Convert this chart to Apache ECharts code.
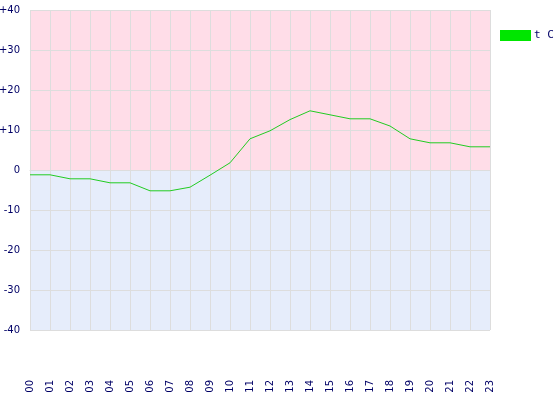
<!DOCTYPE html>
<html><head><meta charset="utf-8">
<script src="https://cdn.jsdelivr.net/npm/echarts@6/dist/echarts.min.js"></script>
<style>html,body{margin:0;padding:0;background:#fff}#c{width:560px;height:400px}</style>
</head><body><div id="c"></div>
<script>
var hours = ['00','01','02','03','04','05','06','07','08','09','10','11','12','13','14','15','16','17','18','19','20','21','22','23'];
var temps = [-1.2,-1.2,-2.2,-2.2,-3.2,-3.2,-5.2,-5.2,-4.3,-1.3,1.8,7.8,9.8,12.6,14.8,13.8,12.8,12.8,11,7.8,6.8,6.8,5.8,5.8];
var seriesName = 't C';
var chart = echarts.init(document.getElementById('c'));
var txt = {color:'#000066', fontFamily:'DejaVu Sans', fontSize:10};
chart.setOption({
  animation:false,
  grid:{left:30, top:10, width:460, height:320, containLabel:false, outerBoundsMode:'none'},
  legend:{left:500, top:30, padding:0, itemWidth:31, itemHeight:11, itemGap:4, icon:'rect',
    textStyle:{color:'#000066', fontFamily:'DejaVu Sans Mono', fontSize:11, padding:[0,0,0,-2]},
    data:[{name:seriesName, itemStyle:{color:'#00e600'}}]},
  xAxis:{type:'category', data:hours, boundaryGap:false,
    axisLine:{show:true, lineStyle:{color:'#dddddd'}}, axisTick:{show:false},
    axisLabel:Object.assign({rotate:90, margin:50, interval:0}, txt),
    splitLine:{show:true, lineStyle:{color:'#dddddd'}}},
  yAxis:{type:'value', min:-40, max:40, interval:10,
    axisLine:{show:false}, axisTick:{show:false},
    axisLabel:Object.assign({margin:10, formatter:function(v){return v>0?'+'+v:String(v);}}, txt),
    splitLine:{show:true, lineStyle:{color:'#dddddd'}}},
  series:[{name:seriesName, type:'line', data:temps, symbol:'none',
    lineStyle:{color:'#22cc22', width:1}, itemStyle:{color:'#00e600'},
    markArea:{silent:true, z:-1, data:[
      [{yAxis:0, itemStyle:{color:'#ffdde8'}},{yAxis:40}],
      [{yAxis:-40, itemStyle:{color:'#e6edfb'}},{yAxis:0}]
    ]}}]
});
</script></body></html>
